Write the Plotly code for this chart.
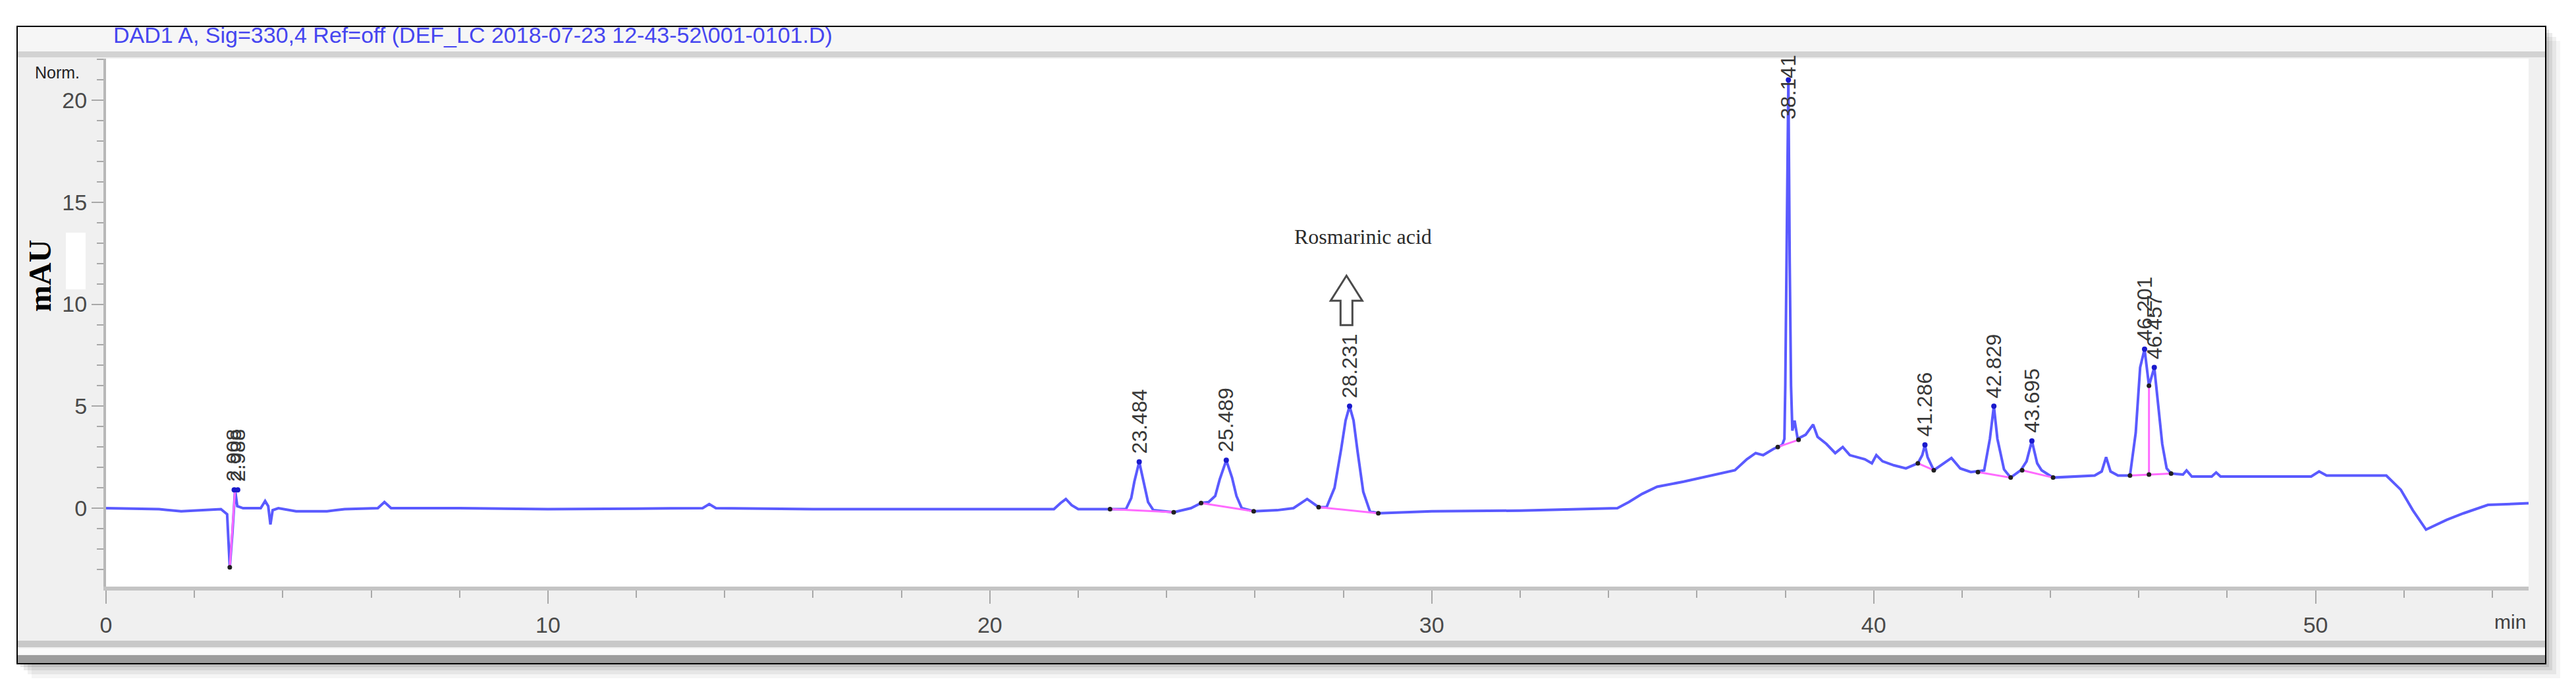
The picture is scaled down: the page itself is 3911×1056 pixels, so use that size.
import plotly.graph_objects as go

# ---------------- data ----------------
TIME_MIN = [
    0.0, 1.2, 1.7, 2.2, 2.6, 2.74, 2.80, 2.86, 2.92, 2.97, 3.1, 3.5, 3.6, 3.67, 3.72, 3.77, 3.9,
    4.3, 5.0, 5.4, 6.15, 6.3, 6.45, 8.0, 10.0, 12.0, 13.5, 13.65, 13.8, 16.0, 18.0, 20.0,
    21.45, 21.6, 21.72, 21.85, 22.0, 22.72, 23.08, 23.2, 23.27, 23.38, 23.49, 23.58, 23.7,
    24.16, 24.55, 24.78, 24.95, 25.1, 25.2, 25.35, 25.48, 25.58, 25.7, 25.97, 26.5, 26.87,
    27.18, 27.44, 27.62, 27.8, 27.95, 28.05, 28.14, 28.23, 28.32, 28.45, 28.6, 28.79, 30.0,
    32.0, 34.2, 34.46, 34.76, 35.1, 35.7, 36.33, 36.86, 37.13, 37.33, 37.5, 37.73, 37.93,
    37.98, 38.0, 38.03, 38.07, 38.10, 38.13, 38.16, 38.21, 38.28, 38.46, 38.63, 38.73, 38.93,
    39.13, 39.3, 39.46, 39.8, 39.96, 40.06, 40.2, 40.46, 40.73, 41.0, 41.1, 41.16, 41.22,
    41.36, 41.6, 41.76, 41.96, 42.2, 42.5, 42.63, 42.72, 42.8, 42.95, 43.1, 43.33, 43.46,
    43.58, 43.7, 43.8, 44.06, 45.0, 45.16, 45.26, 45.36, 45.53, 45.8, 45.93, 46.03, 46.13,
    46.23, 46.35, 46.43, 46.53, 46.63, 46.73, 47.0, 47.08, 47.2, 47.65, 47.75, 47.85, 49.9,
    50.08, 50.25, 51.6, 51.93, 52.2, 52.5, 52.97, 53.35, 53.9, 54.82,
]
SIGNAL_MAU = [
    0.0, -0.05, -0.15, -0.1, -0.05, -0.3, -2.9, -1.2, 0.9, 0.1, 0.0, 0.0, 0.35, 0.1, -0.8, -0.1, 0.0,
    -0.15, -0.15, -0.05, 0.0, 0.3, 0.0, 0.0, -0.05, -0.02, 0.0, 0.2, 0.0, -0.05, -0.05, -0.05,
    -0.05, 0.25, 0.45, 0.15, -0.05, -0.05, -0.05, 0.5, 1.3, 2.27, 1.2, 0.3, -0.1,
    -0.2, 0.0, 0.25, 0.3, 0.6, 1.4, 2.35, 1.5, 0.6, 0.0, -0.15, -0.1, 0.0,
    0.45, 0.05, 0.05, 1.0, 2.9, 4.3, 5.0, 4.3, 2.8, 0.8, -0.15, -0.25, -0.15,
    -0.12, 0.0, 0.3, 0.7, 1.05, 1.3, 1.6, 1.86, 2.4, 2.7, 2.6, 2.9, 3.1,
    3.4, 6.0, 12.0, 21.0, 12.0, 6.0, 3.8, 4.3, 3.4, 3.6, 4.1, 3.5, 3.15,
    2.7, 3.0, 2.6, 2.4, 2.2, 2.6, 2.3, 2.1, 1.95, 2.2, 2.6, 3.1, 2.5,
    1.86, 2.2, 2.46, 1.95, 1.77, 1.85, 3.4, 5.0, 3.4, 1.9, 1.5, 1.86, 2.3,
    3.3, 2.2, 1.86, 1.5, 1.6, 1.8, 2.5, 1.8, 1.6, 1.6, 3.7, 6.9, 7.8,
    6.0, 6.9, 5.2, 3.15, 1.95, 1.7, 1.65, 1.85, 1.55, 1.55, 1.75, 1.55, 1.55,
    1.8, 1.6, 1.6, 0.9, -0.1, -1.05, -0.57, -0.25, 0.16, 0.24,
]

# peak retention-time labels, apex positions
PEAK_LABELS = ["2.908", "2.988", "23.484", "25.489", "28.231", "41.286",
               "42.829", "43.695", "46.201", "46.457"]
PEAK_TIMES = [2.90, 2.98, 23.38, 25.35, 28.14, 41.16, 42.72, 43.58, 46.13, 46.35]
PEAK_HEIGHTS = [0.9, 0.9, 2.27, 2.35, 5.0, 3.1, 5.0, 3.3, 7.8, 6.9]
MAIN_PEAK_LABEL = "38.141"
MAIN_PEAK_TIME = 38.07
MAIN_PEAK_HEIGHT = 21.0

# integration baselines (start t, start y, end t, end y)
BASE_T0 = [2.80, 22.72, 24.78, 27.44, 37.83, 41.0, 42.36, 43.36, 45.8, 46.23]
BASE_Y0 = [-2.9, -0.05, 0.25, 0.05, 3.0, 2.2, 1.77, 1.86, 1.6, 6.0]
BASE_T1 = [2.92, 24.16, 25.97, 28.79, 38.30, 41.36, 43.1, 44.06, 46.73, 46.23]
BASE_Y1 = [0.9, -0.2, -0.15, -0.25, 3.35, 1.86, 1.5, 1.5, 1.7, 1.65]

COMPOUND = "Rosmarinic acid"
COMPOUND_TIME = 28.07
HEADER = "DAD1 A, Sig=330,4 Ref=off (DEF_LC 2018-07-23 12-43-52\\001-0101.D)"
Y_UNIT = "mAU"
X_UNIT = "min"

X_RANGE = [0, 54.82]
Y_RANGE = [-3.845, 22.04]

# ---------------- layout geometry ----------------
# the page body adds an 8px offset; positions below are given in screen pixels
OFF = 8
W, H = 3911, 1056
PLOT_X0, PLOT_X1, PLOT_Y0, PLOT_Y1 = 161, 3839, 89, 890
L, T = PLOT_X0 - OFF, PLOT_Y0 - OFF
R, B = W - (PLOT_X1 - OFF), H - (PLOT_Y1 - OFF)
PW, PH = W - L - R, H - T - B


def PX(x):
    return (x - PLOT_X0) / PW


def PY(y):
    return 1 - (y - PLOT_Y0) / PH


def rect(x0, y0, x1, y1, fill, line=None, lw=0):
    return dict(type="rect", xref="paper", yref="paper",
                x0=PX(x0), x1=PX(x1), y0=PY(y1), y1=PY(y0),
                fillcolor=fill, line=dict(color=line or fill, width=lw),
                layer="below")


shapes = []
for off, a in [(22, 0.04), (16, 0.06), (10, 0.08), (5, 0.10)]:
    shapes.append(rect(26 + off, 40 + off, 3865 + off, 1007 + off, "rgba(0,0,0,%s)" % a))
shapes.append(rect(26, 40, 3865, 1007, "#f0f0f0", "#000000", 2))
shapes.append(rect(27, 41, 3864, 78, "#f6f6f6"))
shapes.append(rect(27, 78, 3864, 87, "#d2d2d2"))
shapes.append(rect(PLOT_X0, PLOT_Y0, PLOT_X1, PLOT_Y1, "#ffffff"))
shapes.append(rect(27, 972, 3864, 982, "#c8c8c8"))
shapes.append(rect(27, 984, 3864, 993, "#fafafa"))
shapes.append(rect(27, 994, 3864, 1006, "#9c9c9c"))
shapes.append(rect(100, 353, 130, 439, "#ffffff"))

# hollow up-arrow marking the compound peak
shapes.append(dict(type="path", xref="x", yref="y", xsizemode="pixel", ysizemode="pixel",
                   xanchor=COMPOUND_TIME, yanchor=11.4,
                   path="M 0 0 L 24 -38 L 9 -38 L 9 -75 L -9 -75 L -9 -38 L -24 -38 Z",
                   fillcolor="#ffffff", line=dict(color="#4a4a4a", width=3), layer="above"))

fig = go.Figure()

fig.add_trace(go.Scatter(x=TIME_MIN, y=SIGNAL_MAU, mode="lines",
                         line=dict(color="#5a5aff", width=4), hoverinfo="skip"))

bx, by = [], []
for t0, y0, t1, y1 in zip(BASE_T0, BASE_Y0, BASE_T1, BASE_Y1):
    bx += [t0, t1, None]
    by += [y0, y1, None]
fig.add_trace(go.Scatter(x=bx, y=by, mode="lines",
                         line=dict(color="#ff6bff", width=3), hoverinfo="skip"))

fig.add_trace(go.Scatter(x=BASE_T0 + BASE_T1, y=BASE_Y0 + BASE_Y1, mode="markers",
                         marker=dict(color="#202020", size=7), hoverinfo="skip"))
fig.add_trace(go.Scatter(x=PEAK_TIMES + [MAIN_PEAK_TIME], y=PEAK_HEIGHTS + [MAIN_PEAK_HEIGHT],
                         mode="markers", marker=dict(color="#1a1acc", size=8), hoverinfo="skip"))

annotations = []
lab_font = dict(family="Liberation Sans, Arial", size=32, color="#383838")
for lab, t, h in zip(PEAK_LABELS, PEAK_TIMES, PEAK_HEIGHTS):
    annotations.append(dict(x=t, y=h, xref="x", yref="y", text=lab, textangle=-90,
                            xanchor="center", yanchor="bottom", yshift=10,
                            showarrow=False, font=lab_font))
annotations.append(dict(x=MAIN_PEAK_TIME, y=Y_RANGE[1], xref="x", yref="y", text=MAIN_PEAK_LABEL,
                        textangle=-90, xanchor="center", yanchor="top", yshift=8,
                        showarrow=False, font=lab_font))
annotations.append(dict(x=COMPOUND_TIME + 0.37, y=13.3, xref="x", yref="y", text=COMPOUND,
                        showarrow=False, xanchor="center", yanchor="middle",
                        font=dict(family="Liberation Serif, Times New Roman", size=32, color="#2a2a2a")))
annotations.append(dict(x=PX(170), y=PY(53), xref="paper", yref="paper", text=HEADER,
                        showarrow=False, xanchor="left", yanchor="middle",
                        font=dict(family="Liberation Sans, Arial", size=34, color="#4646f0")))
annotations.append(dict(x=PX(87), y=PY(110), xref="paper", yref="paper", text="Norm.",
                        showarrow=False, xanchor="center", yanchor="middle",
                        font=dict(family="Liberation Sans, Arial", size=25, color="#222222")))
annotations.append(dict(x=PX(60), y=PY(419), xref="paper", yref="paper", text="<b>%s</b>" % Y_UNIT,
                        textangle=-90, showarrow=False, xanchor="center", yanchor="middle",
                        font=dict(family="Liberation Serif, Times New Roman", size=48, color="#000000")))
annotations.append(dict(x=54.4, y=PY(943), xref="x", yref="paper", text=X_UNIT,
                        showarrow=False, xanchor="center", yanchor="middle",
                        font=dict(family="Liberation Sans, Arial", size=30, color="#404040")))

tick_font = dict(family="Liberation Sans, Arial", size=34, color="#4a4a4a")
fig.update_layout(
    width=W, height=H, autosize=False,
    margin=dict(l=L, r=R, t=T, b=B, pad=0),
    paper_bgcolor="#ffffff", plot_bgcolor="#ffffff",
    showlegend=False,
    shapes=shapes, annotations=annotations,
    xaxis=dict(range=X_RANGE, tick0=0, dtick=10, ticks="outside", ticklen=20, tickwidth=2,
               tickcolor="#a8a8a8", showline=True, linecolor="#c4c4c4", linewidth=6,
               showgrid=False, zeroline=False, tickfont=tick_font, ticklabelstandoff=3,
               minor=dict(dtick=2, tick0=0, ticks="outside", ticklen=11, tickwidth=2,
                          tickcolor="#a8a8a8", showgrid=False)),
    yaxis=dict(range=Y_RANGE, tick0=0, dtick=5, ticks="outside", ticklen=18, tickwidth=2,
               tickcolor="#a8a8a8", showline=True, linecolor="#b8b8b8", linewidth=4,
               showgrid=False, zeroline=False, tickfont=tick_font, ticklabelstandoff=0,
               minor=dict(dtick=1, tick0=0, ticks="outside", ticklen=10, tickwidth=2,
                          tickcolor="#a8a8a8", showgrid=False)),
)

fig.write_html("out.html")
